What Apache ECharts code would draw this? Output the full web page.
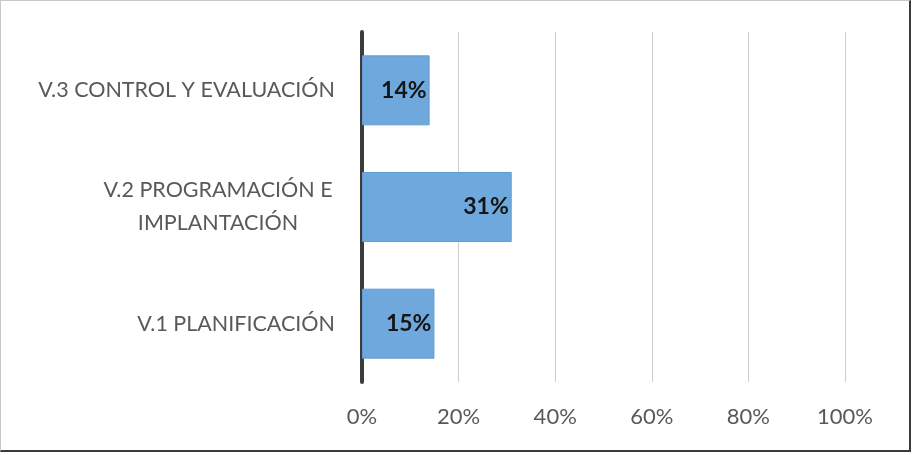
<!DOCTYPE html>
<html>
<head>
<meta charset="utf-8">
<script src="https://cdn.jsdelivr.net/npm/echarts@6/dist/echarts.min.js"></script>
<style>
  html, body { margin: 0; padding: 0; background: #fff; }
  #frame {
    position: absolute; left: 0; top: 0;
    width: 908px; height: 449px;
    border-top: 1px solid #c8c8c8;
    border-left: 1px solid #c8c8c8;
    border-right: 2px solid #3a3a3a;
    border-bottom: 2px solid #3a3a3a;
  }
  #chart { position: absolute; left: 0; top: 0; width: 916px; height: 455px; }
</style>
</head>
<body>
<div id="frame"></div>
<div id="chart"></div>
<script>
  // categories, bottom to top
  const categories = ['V.1 PLANIFICACIÓN', 'V.2 PROGRAMACIÓN E\nIMPLANTACIÓN', 'V.3 CONTROL Y EVALUACIÓN'];
  const values = [15, 31, 14];
  const xTicks = [0, 20, 40, 60, 80, 100];

  const chart = echarts.init(document.getElementById('chart'));
  chart.setOption({
    animation: false,
    grid: { left: 362, right: 71, top: 32, bottom: 73 },
    xAxis: {
      type: 'value',
      min: xTicks[0],
      max: xTicks[xTicks.length - 1],
      interval: 20,
      axisLine: { show: false },
      axisTick: { show: false },
      splitLine: { lineStyle: { color: '#cfcfcf', width: 1 } },
      axisLabel: {
        formatter: '{value}%',
        color: '#595959',
        fontFamily: 'Lato',
        fontSize: 22,
        margin: 24
      }
    },
    yAxis: {
      type: 'category',
      data: categories,
      axisTick: { show: false },
      axisLine: { lineStyle: { color: '#3c3c3c', width: 4 } },
      axisLabel: {
        color: '#595959',
        fontFamily: 'Lato',
        fontSize: 21.5,
        margin: 27,
        lineHeight: 33,
        formatter: function (v) {
          if (v.indexOf('\n') >= 0) {
            return v.split('\n').map(s => '{c|' + s + '}').join('\n');
          }
          return v;
        },
        rich: {
          c: { width: 234, align: 'center', fontFamily: 'Lato', fontSize: 21.5, color: '#595959', lineHeight: 33 }
        }
      }
    },
    series: [{
      type: 'bar',
      data: values,
      barCategoryGap: '40%',
      itemStyle: { color: '#6fa8dc', borderColor: '#639cd2', borderWidth: 1 },
      label: {
        show: true,
        position: 'insideRight',
        distance: 3,
        formatter: '{c}%',
        fontFamily: 'Lato',
        fontWeight: 'bold',
        fontSize: 23,
        color: '#151515'
      }
    }]
  });
</script>
</body>
</html>
